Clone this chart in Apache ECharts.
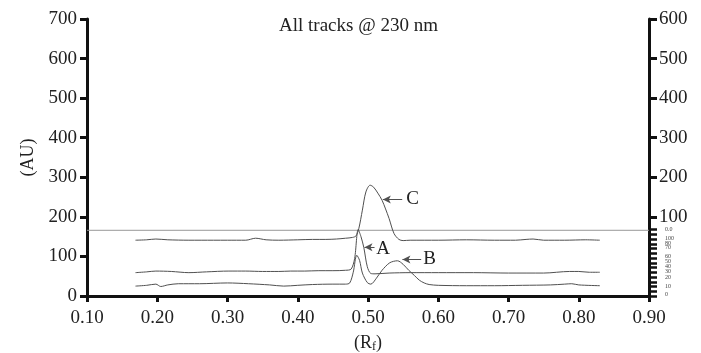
<!DOCTYPE html>
<html>
<head>
<meta charset="utf-8">
<script src="https://cdn.jsdelivr.net/npm/echarts@6/dist/echarts.min.js"></script>
<style>
html,body{margin:0;padding:0;background:#fff;}
#chart{width:701px;height:353px;}
</style>
</head>
<body>
<div id="chart"></div>
<script>
// Track C (top)
var rfC = [0.169,0.185,0.198,0.215,0.245,0.28,0.30,0.326,0.34,0.355,0.373,0.40,0.421,0.44,0.455,0.468,0.478,0.483,0.487,0.492,0.497,0.503,0.508,0.514,0.520,0.525,0.530,0.537,0.544,0.55,0.56,0.60,0.64,0.68,0.71,0.725,0.735,0.75,0.78,0.81,0.83];
var valC = [141,142,144,142,141,141,141,141,146,142,141,142,143,143,144,146,148,152,171,217,263,280,275,260,242,220,196,158,143,140,141,141,142,141,141,143,144,141,141,142,141];
// Track A (middle)
var rfA = [0.169,0.185,0.198,0.22,0.245,0.27,0.302,0.326,0.35,0.373,0.39,0.41,0.43,0.45,0.468,0.476,0.481,0.486,0.490,0.494,0.499,0.504,0.51,0.53,0.56,0.60,0.65,0.70,0.75,0.787,0.80,0.815,0.83];
var valA = [59,61,63,62,59,61,63,63,62,62,63,63,64,64,65,68,95,168,150,123,74,57,56,58,59,59,59,58,58,62,62,60,60];
// Track B (bottom)
var rfB = [0.169,0.185,0.198,0.205,0.215,0.23,0.26,0.30,0.33,0.36,0.38,0.40,0.421,0.45,0.468,0.474,0.479,0.484,0.488,0.492,0.499,0.504,0.512,0.520,0.531,0.542,0.55,0.558,0.566,0.573,0.58,0.587,0.60,0.64,0.68,0.72,0.76,0.78,0.79,0.80,0.83];
var valB = [25,27,30,24,28,31,31,33,31,28,25,27,29,30,30,33,60,103,90,58,34,30,45,65,84,89,80,65,52,40,33,29,27,26,26,27,28,30,31,28,26];
// Reference horizontal line
var refRf = [0.10,0.90];
var refVal = [166,166];
// Annotations (letter, arrow tail, arrow tip, label position)
var annText = ['C','A','B'];
var annTail = [[0.5487,244],[0.5093,123],[0.5757,92]];
var annTip = [[0.5211,244],[0.495,123],[0.549,92]];
var annLabel = [[0.5634,245],[0.5216,118],[0.5876,93]];
// Axis ticks / labels
var rightMainTicks = [100,200,300,400,500,600];
var smallTickVals = [0,12,24,36,48,60,72,84,96,108,120,132,144,156,168];
var smallLabelVals = [168,146,134,123,100,88,76,63,46,25,4];
var smallLabelText = ['0.0','100','80','70','60','50','40','30','20','10','0'];

function pairs(xs, ys){ return xs.map(function(x,i){ return [x, ys[i]]; }); }

var serif = '"Liberation Serif","Times New Roman",serif';
var axisLineStyle = {color:'#111', width:3};
var tickStyle = {color:'#111', width:3};

var chart = echarts.init(document.getElementById('chart'));
var traceStyle = {color:'#505050', width:1};
chart.setOption({
  animation:false,
  backgroundColor:'#fff',
  title:{text:'All tracks @ 230 nm', left:274, top:12, textStyle:{fontFamily:serif, fontSize:19, fontWeight:'normal', color:'#222'}},
  grid:{left:87, right:52, top:19, bottom:57, outerBoundsMode:'none', containLabel:false},
  xAxis:{type:'value', min:0.1, max:0.9, interval:0.1,
    name:'(R{sub|f})', nameLocation:'middle', nameGap:37,
    nameTextStyle:{fontFamily:serif, fontSize:18, color:'#222', rich:{sub:{fontFamily:serif, fontSize:12, verticalAlign:'bottom', padding:[8,0,0,0], color:'#222'}}},
    axisLine:{lineStyle:axisLineStyle}, axisTick:{length:6, lineStyle:tickStyle},
    splitLine:{show:false},
    axisLabel:{fontFamily:serif, fontSize:19, color:'#222', margin:13, formatter:function(v){return v.toFixed(2);}}},
  yAxis:[
    {type:'value', min:0, max:700, interval:100, position:'left',
     name:'(AU)', nameLocation:'middle', nameGap:50,
     nameTextStyle:{fontFamily:serif, fontSize:18, color:'#222'},
     axisLine:{show:true, lineStyle:axisLineStyle}, axisTick:{show:true, length:7, lineStyle:tickStyle},
     splitLine:{show:false},
     axisLabel:{fontFamily:serif, fontSize:19, color:'#222', margin:10}},
    {type:'value', min:-100, max:600, interval:100, position:'right',
     axisLine:{show:true, lineStyle:axisLineStyle},
     axisTick:{show:true, length:8, lineStyle:tickStyle, customValues:rightMainTicks},
     splitLine:{show:false},
     axisLabel:{fontFamily:serif, fontSize:19, color:'#222', margin:10, customValues:rightMainTicks}},
    {type:'value', min:0, max:700, position:'right',
     axisLine:{show:false},
     axisTick:{show:true, length:8, lineStyle:{color:'#111', width:2.5}, customValues:smallTickVals},
     splitLine:{show:false},
     axisLabel:{fontFamily:serif, fontSize:6, color:'#444', margin:16, customValues:smallLabelVals,
       formatter:function(v){ var i = smallLabelVals.indexOf(v); return i>=0 ? smallLabelText[i] : ''; }}}
  ],
  series:[
    {type:'line', data:pairs(refRf, refVal), symbol:'none', lineStyle:{color:'#999', width:1}, silent:true},
    {type:'line', data:pairs(rfC, valC), symbol:'none', smooth:0.3, lineStyle:traceStyle, silent:true,
     markLine:{silent:true, symbol:['none','arrow'], symbolSize:[6,8], label:{show:false}, lineStyle:{color:'#505050', width:1, type:'solid'},
       data:annText.map(function(t,i){ return [{coord:annTail[i]},{coord:annTip[i]}]; })},
     markPoint:{silent:true, symbol:'circle', symbolSize:0,
       label:{show:true, fontFamily:serif, fontSize:19, color:'#222', position:'inside', formatter:function(p){return p.name;}},
       data:annText.map(function(t,i){ return {name:t, coord:annLabel[i]}; })}},
    {type:'line', data:pairs(rfA, valA), symbol:'none', smooth:0.3, lineStyle:traceStyle, silent:true},
    {type:'line', data:pairs(rfB, valB), symbol:'none', smooth:0.3, lineStyle:traceStyle, silent:true}
  ]
});
</script>
</body>
</html>
